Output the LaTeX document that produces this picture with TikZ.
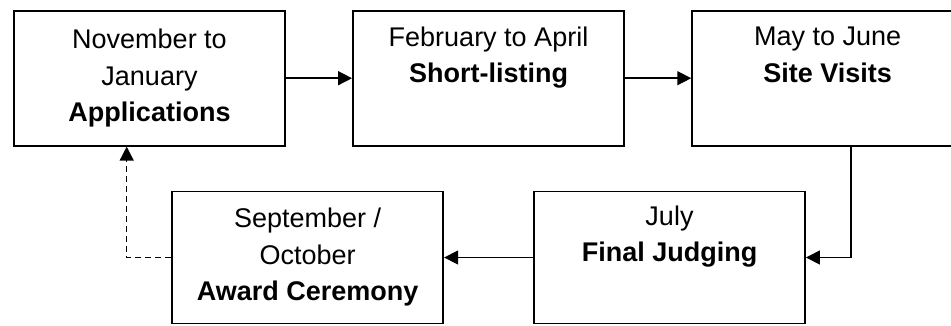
\documentclass[tikz,border=0pt]{standalone}
\usepackage{fontspec}
\setmainfont{Liberation Sans}
\usetikzlibrary{arrows.meta}
\tikzset{
  box/.style={draw=black, line width=1.9pt, rectangle, minimum width=271pt, inner sep=0pt,
    align=center, font=\fontsize{27}{36.5}\selectfont},
  arr/.style={line width=1.5pt, -{Triangle[length=14pt,width=14pt]}},
  darr/.style={arr, dash pattern=on 6pt off 4pt}
}
\begin{document}
\begin{tikzpicture}[x=1pt,y=-1pt]
\useasboundingbox (0,0) rectangle (951,325);
\node[box, minimum height=135pt] (a) at (149.5,78.2) {November to\\January\\\textbf{Applications}};
\node[box, minimum height=135pt] (b) at (488.5,78.2) {February to April\\\textbf{Short-listing}\\\strut};
\node[box, minimum height=135pt] (c) at (827.7,78.2) {May to June\\\textbf{Site Visits}\\\strut};
\node[box, minimum height=132pt] (d) at (669.5,257.5) {July\\\textbf{Final Judging}\\\strut};
\node[box, minimum height=132pt] (e) at (307.7,257.5) {September /\\October\\\textbf{Award Ceremony}};
\coordinate (cs) at (851,145.7);
\coordinate (as) at (126.7,145.7);
\draw[arr] (a) -- (b);
\draw[arr] (b) -- (c);
\draw[arr] (c.south -| cs) |- (d.east);
\draw[arr] (d) -- (e);
\draw[darr] (e.west) -| (a.south -| as);
\end{tikzpicture}
\end{document}
